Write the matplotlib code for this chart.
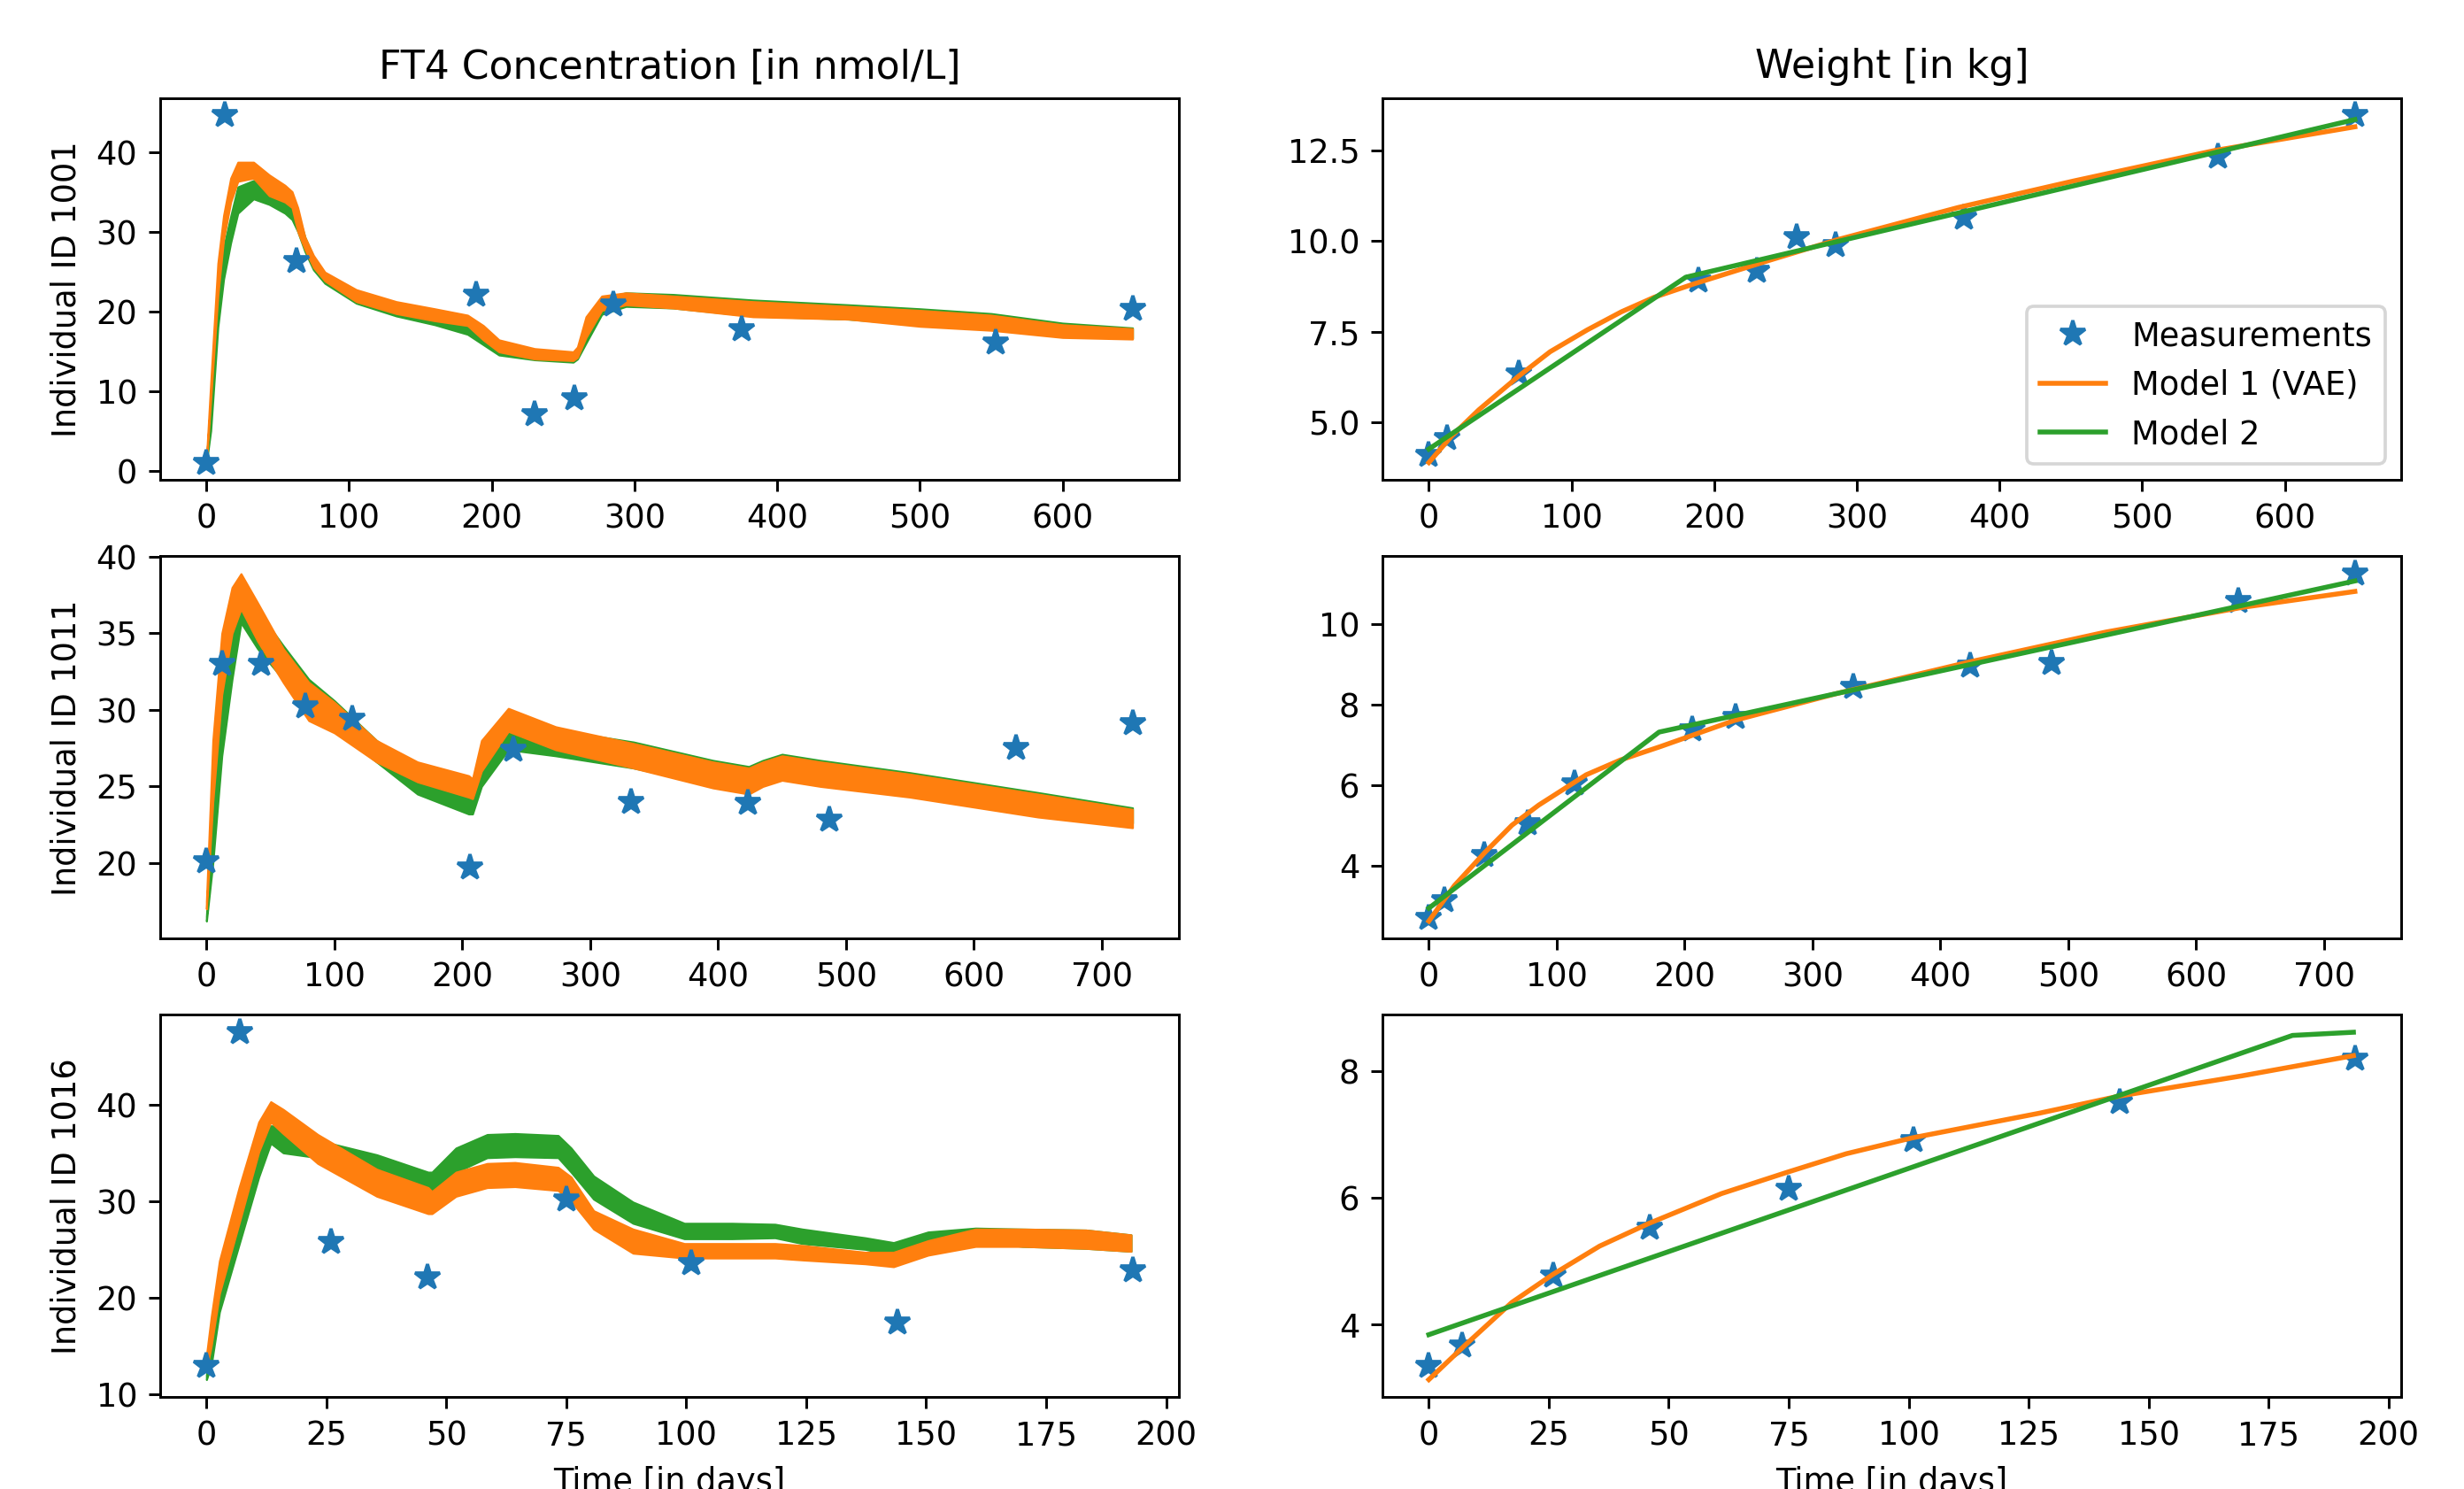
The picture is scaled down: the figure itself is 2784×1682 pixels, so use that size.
import matplotlib
matplotlib.use("Agg")
import matplotlib.pyplot as plt

# measurement times (days) and values per individual
ids = ["1001", "1011", "1016"]

t_meas_1001 = [0, 13, 63, 189, 230, 258, 285, 375, 553, 649]
ft4_meas_1001 = [1.0, 44.6, 26.3, 22.1, 7.1, 9.05, 20.8, 17.7, 16.1, 20.3]
wt_meas_1001 = [4.10, 4.58, 6.36, 8.90, 9.18, 10.11, 9.87, 10.63, 12.33, 13.46]

t_meas_1011 = [0, 12, 43, 77, 114, 206, 240, 332, 423, 487, 633, 724]
ft4_meas_1011 = [20.1, 33.0, 33.0, 30.2, 29.4, 19.7, 27.4, 24.0, 23.9, 22.8, 27.5, 29.1]
wt_meas_1011 = [2.69, 3.13, 4.25, 5.05, 6.04, 7.38, 7.69, 8.44, 8.95, 9.02, 10.55, 11.24]

t_meas_1016 = [0, 7, 26, 46, 75, 101, 144, 193]
ft4_meas_1016 = [12.9, 47.5, 25.8, 22.1, 30.2, 23.6, 17.4, 22.8]
wt_meas_1016 = [3.35, 3.67, 4.77, 5.53, 6.15, 6.92, 7.52, 8.20]

# FT4 model predictions: daily dosing makes them oscillate, kept as trough/peak envelopes
t_ft4_1001 = [0, 3, 8, 12, 17, 22, 33, 44, 55, 60, 64, 69, 75, 83, 105, 133, 160, 183, 194, 205,
              230, 257, 260, 266, 277, 294, 327, 383, 450, 500, 550, 600, 649]
vae_hi_1001 = [1.5, 11, 26, 32, 36.7, 38.7, 38.7, 37.1, 35.8, 35.0, 33.0, 29.3, 27.0, 24.9, 22.7,
               21.2, 20.3, 19.5, 18.2, 16.4, 15.3, 14.9, 15.5, 19.3, 21.9, 22.3, 21.9, 21.2, 20.6,
               20.1, 19.5, 18.3, 17.8]
vae_lo_1001 = [1.0, 9, 22, 29, 33.7, 36.3, 36.7, 34.5, 33.7, 33.0, 30.0, 27.8, 25.5, 23.8, 21.2,
               19.7, 18.8, 18.2, 16.4, 14.9, 14.0, 13.8, 14.2, 16.7, 20.1, 20.8, 20.4, 19.3, 19.0,
               18.1, 17.6, 16.7, 16.5]
m2_hi_1001 = [1.5, 8, 22, 28, 31.9, 35.6, 36.4, 35.3, 34.1, 33.3, 32.3, 29.3, 26.8, 24.7, 22.5,
              21.0, 20.0, 19.0, 17.5, 16.0, 15.0, 14.7, 15.2, 18.8, 21.6, 22.3, 22.1, 21.4, 20.8,
              20.3, 19.7, 18.5, 17.9]
m2_lo_1001 = [1.0, 5, 18, 24, 28.6, 32.3, 34.1, 33.4, 32.3, 31.5, 30.0, 27.5, 25.2, 23.5, 21.0,
              19.4, 18.3, 17.1, 15.8, 14.5, 13.9, 13.6, 14.0, 16.0, 19.6, 20.6, 20.4, 19.4, 19.0,
              18.3, 17.8, 16.9, 16.6]

t_ft4_1011 = [0, 5, 12, 20, 27, 40, 60, 80, 100, 133, 165, 205, 208, 215, 236, 273, 334, 396,
              424, 435, 450, 480, 550, 650, 724]
vae_hi_1011 = [17.5, 28, 35, 38, 38.9, 37, 34, 31.8, 30.5, 28.0, 26.6, 25.7, 25.5, 28, 30.1, 28.9,
               27.8, 26.6, 26.2, 26.6, 27.0, 26.6, 25.8, 24.5, 23.5]
vae_lo_1011 = [17.0, 24, 31, 35, 36.6, 34.5, 31.8, 29.3, 28.5, 26.6, 25.3, 24.3, 24.2, 26, 28.6,
               27.4, 26.2, 24.9, 24.5, 25.0, 25.4, 25.0, 24.3, 23.0, 22.3]
m2_hi_1011 = [16.5, 24, 31, 35, 37.2, 36.5, 34.2, 32.0, 30.6, 28.0, 26.2, 24.9, 24.8, 27, 28.9,
              28.7, 27.9, 26.7, 26.3, 26.7, 27.1, 26.7, 25.9, 24.6, 23.6]
m2_lo_1011 = [16.2, 20, 27, 32, 35.7, 34.0, 32.0, 30.3, 28.8, 26.6, 24.5, 23.2, 23.2, 25, 27.4,
              27.0, 26.2, 25.1, 24.7, 25.2, 25.6, 25.2, 24.5, 23.2, 22.6]

t_ft4_1016 = [0, 1, 2.7, 6.8, 10.9, 13.4, 16, 23.2, 35.5, 46.2, 47, 52, 58.5, 64.3, 73.3, 76,
              80.7, 88.9, 99.6, 109.5, 118.5, 124.2, 137.3, 143.2, 150.4, 160.3, 170.1, 183.3, 192.7]
vae_hi_1016 = [14, 18, 23.8, 31.4, 38.2, 40.3, 39.5, 36.9, 33.3, 31.4, 31.0, 33, 33.9, 34.0, 33.5,
               32.5, 29.0, 27.1, 25.6, 25.6, 25.6, 25.4, 24.7, 24.7, 25.9, 27.1, 27.1, 27.0, 26.5]
vae_lo_1016 = [12.5, 15, 20.4, 27.7, 35.1, 38.2, 37.0, 33.9, 30.5, 28.7, 28.7, 30.5, 31.4, 31.5,
               31.1, 30.0, 27.1, 24.6, 24.1, 24.1, 24.1, 23.9, 23.5, 23.2, 24.4, 25.3, 25.3, 25.1, 24.8]
m2_hi_1016 = [12.0, 15, 21.0, 28.5, 35.5, 37.8, 37.8, 36.3, 34.8, 33.0, 33.0, 35.5, 36.9, 37.0,
              36.8, 35.5, 32.6, 29.9, 27.7, 27.7, 27.6, 27.1, 26.2, 25.7, 26.8, 27.2, 27.1, 27.0, 26.5]
m2_lo_1016 = [11.5, 13, 18.5, 25.5, 32.5, 36.0, 35.0, 34.5, 32.6, 31.1, 31.1, 33.0, 34.5, 34.6,
              34.5, 33.0, 30.2, 27.7, 26.1, 26.1, 26.2, 25.6, 25.0, 24.4, 25.3, 25.9, 25.3, 25.1, 24.8]

# weight model predictions
t_wvae_1001 = [0, 16, 35, 63, 85, 111, 135, 158, 186, 239, 286, 371, 452, 551, 649]
wvae_1001 = [3.9, 4.63, 5.35, 6.28, 6.95, 7.55, 8.05, 8.45, 8.82, 9.47, 10.03, 10.92, 11.65,
             12.49, 13.14]
t_wm2_1001 = [0, 180, 649]
wm2_1001 = [4.27, 9.0, 13.34]

t_wvae_1011 = [0, 20, 44, 65, 86, 123, 150, 181, 239, 318, 424, 529, 635, 724]
wvae_1011 = [2.62, 3.5, 4.33, 5.0, 5.5, 6.25, 6.62, 6.95, 7.6, 8.26, 9.06, 9.79, 10.4, 10.8]
t_wm2_1011 = [0, 180, 724]
wm2_1011 = [2.94, 7.31, 11.06]

t_wvae_1016 = [0, 7.5, 17.3, 25.8, 35.6, 45.9, 61, 74.8, 87, 100.7, 127.2, 143.8, 169.4, 192.7]
wvae_1016 = [3.13, 3.67, 4.35, 4.79, 5.24, 5.6, 6.07, 6.41, 6.7, 6.95, 7.34, 7.61, 7.93, 8.25]
t_wm2_1016 = [0, 180, 192.7]
wm2_1016 = [3.84, 8.57, 8.62]

meas = {
    "1001": (t_meas_1001, ft4_meas_1001, wt_meas_1001),
    "1011": (t_meas_1011, ft4_meas_1011, wt_meas_1011),
    "1016": (t_meas_1016, ft4_meas_1016, wt_meas_1016),
}
ft4_bands = {
    "1001": (t_ft4_1001, vae_lo_1001, vae_hi_1001, m2_lo_1001, m2_hi_1001),
    "1011": (t_ft4_1011, vae_lo_1011, vae_hi_1011, m2_lo_1011, m2_hi_1011),
    "1016": (t_ft4_1016, vae_lo_1016, vae_hi_1016, m2_lo_1016, m2_hi_1016),
}
wt_models = {
    "1001": (t_wvae_1001, wvae_1001, t_wm2_1001, wm2_1001),
    "1011": (t_wvae_1011, wvae_1011, t_wm2_1011, wm2_1011),
    "1016": (t_wvae_1016, wvae_1016, t_wm2_1016, wm2_1016),
}

dpi = 265
fig, axes = plt.subplots(3, 2, figsize=(2784 / dpi, 1682 / dpi))
fig.subplots_adjust(left=0.065, right=0.9745, top=0.9343, bottom=0.0618,
                    wspace=0.2, hspace=0.2)

for row, pid in enumerate(ids):
    t_m, ft4_m, wt_m = meas[pid]
    ax_c = axes[row, 0]
    ax_w = axes[row, 1]

    # FT4 concentration
    ax_c.plot(t_m, ft4_m, "*", color="tab:blue", markersize=8)
    t_b, vlo, vhi, glo, ghi = ft4_bands[pid]
    ax_c.fill_between(t_b, glo, ghi, color="tab:green", lw=0.6)
    ax_c.fill_between(t_b, vlo, vhi, color="tab:orange", lw=0.6)
    ax_c.set_ylabel(f"Individual ID {pid}")

    # weight
    tv, wv, tg, wg = wt_models[pid]
    ax_w.plot(t_m, wt_m, "*", color="tab:blue", markersize=8, label="Measurements")
    ax_w.plot(tv, wv, color="tab:orange", label="Model 1 (VAE)")
    ax_w.plot(tg, wg, color="tab:green", label="Model 2")

axes[0, 0].set_title("FT4 Concentration [in nmol/L]")
axes[0, 1].set_title("Weight [in kg]")
axes[0, 1].legend(loc="lower right")
axes[2, 0].set_xlabel("Time [in days]")
axes[2, 1].set_xlabel("Time [in days]")

fig.savefig("out.png", dpi=dpi)
